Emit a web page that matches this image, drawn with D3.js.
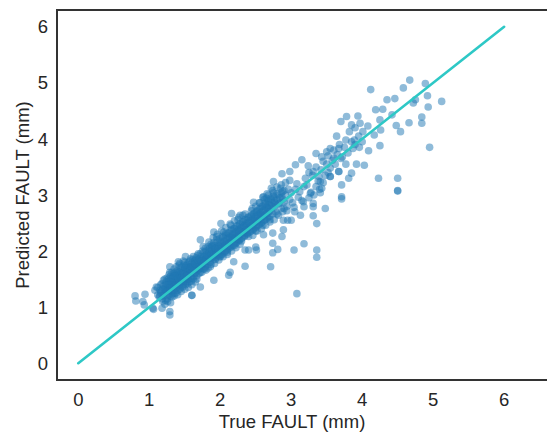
<!DOCTYPE html>
<html lang="en">
<head>
<meta charset="UTF-8">
<title>True vs Predicted FAULT</title>
<style>
  body { margin: 0; background: #fff; }
  svg { display: block; font-family: 'Liberation Sans', Arial, sans-serif; }
  .tick-label { font-size: 18.5px; fill: #262626; }
  .axis-title { font-size: 18.5px; fill: #262626; }
</style>
</head>
<body>
<div id="chart"></div>
<script src="https://d3js.org/d3.v7.min.js"></script>
<script>
// tick labels
const xTicks = [0, 1, 2, 3, 4, 5, 6];
const yTicks = [0, 1, 2, 3, 4, 5, 6];
// identity reference line (true = predicted)
const refLine = [[0, 0], [6, 6]];

// [true, predicted] pairs
const bandLow = [
  [1.12,1.22],[1.15,1.30],[1.18,1.15],[1.20,1.38],[1.21,1.25],[1.23,1.12],[1.24,1.45],[1.25,1.32],[1.26,1.20],[1.27,1.50],
  [1.28,1.40],[1.29,1.28],[1.30,1.55],[1.31,1.35],[1.32,1.18],[1.33,1.46],[1.34,1.60],[1.35,1.30],[1.36,1.42],[1.37,1.52],
  [1.38,1.25],[1.39,1.65],[1.40,1.38],[1.41,1.48],[1.42,1.58],[1.43,1.32],[1.44,1.70],[1.45,1.44],[1.46,1.54],[1.47,1.36],
  [1.48,1.62],[1.49,1.75],[1.50,1.46],[1.51,1.40],[1.52,1.58],[1.53,1.68],[1.54,1.50],[1.55,1.80],[1.56,1.45],[1.57,1.62],
  [1.58,1.72],[1.59,1.55],[1.60,1.66],[1.61,1.85],[1.62,1.50],[1.63,1.76],[1.64,1.60],[1.65,1.70],[1.66,1.88],[1.67,1.56],
  [1.68,1.80],[1.69,1.66],[1.70,1.74],[1.22,1.05],[1.26,1.10],[1.30,1.08],[1.35,1.20],[1.40,1.22],[1.45,1.28],[1.50,1.32],
  [1.55,1.35],[1.60,1.40],[1.65,1.45],[1.18,1.42],[1.22,1.50],[1.28,1.58],[1.32,1.62],[1.38,1.72],[1.43,1.78],[1.48,1.82],
  [1.36,1.48],[1.42,1.40],[1.46,1.65],[1.52,1.52],[1.58,1.60],[1.62,1.72],[1.34,1.38],[1.40,1.55],[1.44,1.50],[1.50,1.68],
  [1.56,1.72],[1.64,1.82],[1.68,1.92],[1.30,1.42],[1.26,1.36],[1.24,1.28],[1.20,1.20],[1.16,1.25],[1.33,1.24],[1.38,1.34],
  [1.54,1.42],[1.60,1.52],[1.66,1.62],[1.70,1.60],[1.28,1.22],[1.46,1.46],[1.52,1.74],[1.58,1.86],[1.60,1.21],[1.72,1.36]
];

const bandFillLow = [
  [1.12,1.35],[1.14,1.18],[1.16,1.40],[1.17,1.28],[1.19,1.10],[1.20,1.48],[1.22,1.33],[1.23,1.40],[1.25,1.52],[1.25,1.15],
  [1.27,1.30],[1.28,1.46],[1.29,1.62],[1.30,1.20],[1.31,1.50],[1.32,1.40],[1.33,1.30],[1.34,1.55],[1.35,1.68],[1.36,1.25],
  [1.37,1.40],[1.38,1.58],[1.39,1.48],[1.40,1.30],[1.41,1.62],[1.42,1.75],[1.43,1.45],[1.44,1.35],[1.45,1.60],[1.46,1.72],
  [1.47,1.50],[1.48,1.40],[1.49,1.66],[1.50,1.80],[1.51,1.55],[1.52,1.45],[1.53,1.62],[1.54,1.76],[1.55,1.58],[1.56,1.50],
  [1.57,1.82],[1.58,1.66],[1.59,1.46],[1.60,1.78],[1.61,1.62],[1.62,1.90],[1.63,1.55],[1.64,1.72],[1.65,1.84],[1.66,1.68],
  [1.67,1.50],[1.68,1.74],[1.69,1.95],[1.70,1.68],[1.71,1.80],[1.72,1.62],[1.73,1.90],[1.74,1.75],[1.75,1.86],[1.76,1.68],
  [1.77,1.98],[1.78,1.84],[1.79,1.72],[1.80,2.00],[1.81,1.82],[1.82,1.92],[1.83,1.70],[1.84,2.02],[1.85,1.88],[1.86,1.95],
  [1.87,1.76],[1.88,2.08],[1.89,1.90],[1.90,1.98],[1.31,1.45],[1.35,1.38],[1.39,1.56],[1.43,1.62],[1.47,1.44],[1.51,1.70],
  [1.55,1.64],[1.59,1.72],[1.63,1.66],[1.67,1.78],[1.71,1.72],[1.75,1.78],[1.79,1.92],[1.83,1.86],[1.87,1.94],[1.27,1.40],
  [1.23,1.30],[1.19,1.32],[1.15,1.20],[1.33,1.52],[1.37,1.62],[1.41,1.52],[1.45,1.52],[1.49,1.58],[1.53,1.56],[1.57,1.68],
  [1.61,1.70],[1.65,1.78],[1.69,1.84],[1.73,1.82],[1.77,1.84],[1.81,1.88],[1.85,2.05],[1.89,2.10],[1.29,1.34],[1.36,1.56]
];

const bandMid = [
  [1.71,1.86],[1.72,1.95],[1.73,1.70],[1.74,1.82],[1.75,2.00],[1.76,1.78],[1.77,1.90],[1.78,1.68],[1.79,2.05],[1.80,1.85],
  [1.81,1.94],[1.82,1.76],[1.83,2.08],[1.84,1.90],[1.85,1.98],[1.86,1.80],[1.87,2.12],[1.88,1.95],[1.89,2.02],[1.90,1.84],
  [1.91,2.15],[1.92,1.98],[1.93,2.06],[1.94,1.88],[1.95,2.20],[1.96,2.02],[1.97,2.10],[1.98,1.92],[1.99,2.22],[2.00,2.05],
  [2.01,2.14],[2.02,1.95],[2.03,2.26],[2.04,2.08],[2.05,2.18],[2.06,1.98],[2.07,2.30],[2.08,2.12],[2.09,2.22],[2.10,2.02],
  [2.11,2.32],[2.12,2.15],[2.13,2.25],[2.14,2.06],[2.15,2.38],[2.16,2.20],[2.17,2.28],[2.18,2.10],[2.19,2.40],[2.20,2.24],
  [2.21,2.32],[2.22,2.14],[2.23,2.45],[2.24,2.28],[2.25,2.36],[2.26,2.18],[2.27,2.48],[2.28,2.30],[2.29,2.40],[2.30,2.22],
  [2.31,2.52],[2.32,2.34],[2.33,2.44],[2.34,2.26],[2.35,2.56],[2.36,2.38],[2.37,2.48],[2.38,2.30],[2.39,2.60],[2.40,2.42],
  [1.74,1.62],[1.80,1.66],[1.86,1.72],[1.92,1.78],[1.98,1.84],[2.04,1.90],[2.10,1.94],[2.16,2.00],[2.22,2.06],[2.28,2.12],
  [1.76,2.08],[1.84,2.16],[1.90,2.24],[1.96,2.30],[2.02,2.36],[2.08,2.42],[2.14,2.48],[2.20,2.54],[2.26,2.60],[2.32,2.64],
  [1.78,1.80],[1.88,1.88],[1.94,1.96],[2.00,1.98],[2.06,2.10],[2.12,2.08],[2.18,2.22],[2.24,2.20],[2.30,2.36],[2.36,2.32],
  [1.91,1.48],[2.12,1.57],[2.14,1.62],[2.19,1.81],[1.72,2.20],[1.91,2.34],[2.01,2.49],[2.16,2.67],[2.28,2.64]
];

const bandFillMid = [
  [1.91,1.92],[1.92,2.10],[1.93,1.85],[1.94,2.05],[1.95,1.94],[1.96,2.16],[1.97,1.98],[1.98,2.08],[1.99,1.90],[2.00,2.18],
  [2.01,2.00],[2.02,2.10],[2.03,1.94],[2.04,2.24],[2.05,2.06],[2.06,2.16],[2.07,2.00],[2.08,2.28],[2.09,2.10],[2.10,2.20],
  [2.11,2.04],[2.12,2.32],[2.13,2.14],[2.14,2.24],[2.15,2.08],[2.16,2.36],[2.17,2.18],[2.18,2.30],[2.19,2.12],[2.20,2.40],
  [2.21,2.22],[2.22,2.34],[2.23,2.16],[2.24,2.44],[2.25,2.26],[2.26,2.38],[2.27,2.20],[2.28,2.48],[2.29,2.30],[2.30,2.42],
  [2.31,2.24],[2.32,2.52],[2.33,2.34],[2.34,2.46],[2.35,2.28],[2.36,2.56],[2.37,2.38],[2.38,2.50],[2.39,2.32],[2.40,2.60],
  [2.41,2.42],[2.42,2.54],[2.43,2.36],[2.44,2.64],[2.45,2.46],[2.46,2.58],[2.47,2.40],[2.48,2.68],[2.49,2.50],[2.50,2.62],
  [2.51,2.44],[2.52,2.72],[2.53,2.54],[2.54,2.66],[2.55,2.48],[2.56,2.76],[2.57,2.58],[2.58,2.70],[2.59,2.52],[2.60,2.80],
  [2.61,2.62],[2.62,2.74],[2.63,2.56],[2.64,2.84],[2.65,2.66],[2.66,2.78],[2.67,2.60],[2.68,2.88],[2.69,2.70],[2.70,2.82],
  [2.72,2.92],[2.74,2.80],[2.76,2.96],[2.78,2.84],[2.80,2.92],[2.82,3.00],[2.84,2.86],[2.86,3.04],[2.88,2.92],[2.90,3.08],
  [1.95,2.26],[2.05,2.34],[2.15,2.46],[2.25,2.56],[2.35,2.66],[2.45,2.76],[2.55,2.86],[2.65,2.94],[2.75,3.04],[2.85,3.12],
  [2.00,1.90],[2.10,1.98],[2.20,2.10],[2.30,2.18],[2.40,2.26],[2.50,2.36],[2.60,2.46],[2.70,2.56],[2.80,2.66],[2.90,2.76],
  [1.97,2.04],[2.07,2.12],[2.17,2.24],[2.27,2.34],[2.37,2.44],[2.47,2.54],[2.57,2.64],[2.67,2.76],[2.77,2.86],[2.87,2.96]
];

const bandHigh = [
  [2.41,2.50],[2.42,2.34],[2.43,2.62],[2.44,2.46],[2.45,2.55],[2.46,2.38],[2.47,2.66],[2.48,2.50],[2.49,2.58],[2.50,2.42],
  [2.51,2.70],[2.52,2.54],[2.53,2.62],[2.54,2.46],[2.55,2.75],[2.56,2.58],[2.57,2.68],[2.58,2.50],[2.59,2.80],[2.60,2.62],
  [2.61,2.72],[2.62,2.55],[2.63,2.85],[2.64,2.66],[2.65,2.78],[2.66,2.58],[2.67,2.90],[2.68,2.70],[2.69,2.82],[2.70,2.62],
  [2.71,2.94],[2.72,2.75],[2.73,2.86],[2.74,2.66],[2.75,2.98],[2.76,2.78],[2.77,2.90],[2.78,2.70],[2.80,3.02],[2.82,2.84],
  [2.84,2.95],[2.86,2.76],[2.88,3.06],[2.90,2.88],[2.92,3.00],[2.94,2.80],[2.96,3.10],[2.98,2.92],[3.00,3.04],[3.02,2.86],
  [2.44,2.72],[2.50,2.80],[2.56,2.86],[2.62,2.92],[2.68,3.00],[2.74,3.08],[2.80,3.14],[2.86,3.18],[2.92,3.22],[2.98,3.26],
  [2.46,2.28],[2.52,2.36],[2.58,2.40],[2.64,2.46],[2.70,2.52],[2.76,2.56],[2.82,2.64],[2.88,2.70],[2.94,2.72],[3.04,2.78],
  [2.60,2.96],[2.66,3.02],[2.72,3.12],[3.06,3.10],[3.10,2.96],[3.08,3.20],[3.12,3.06],[3.15,2.90],[3.05,2.70],[3.18,3.15],
  [2.47,2.87],[2.61,2.97],[2.50,2.07],[2.35,2.02],[2.61,2.29],[2.95,2.55]
];

const bandUpper = [
  [3.20,3.30],[3.25,3.40],[3.22,3.18],[3.28,3.05],[3.30,3.35],[3.35,3.50],[3.38,3.25],[3.42,3.45],[3.45,3.60],[3.48,3.35],
  [3.50,3.55],[3.52,3.70],[3.55,3.48],[3.58,3.62],[3.60,3.80],[3.62,3.55],[3.65,3.72],[3.68,3.90],[3.70,3.65],[3.75,3.85],
  [3.80,3.75],[3.85,3.95],[3.90,3.90],[3.95,4.05],[4.00,3.95],[3.40,3.10],[3.45,3.22],[3.32,3.00],[3.25,2.95],[3.52,3.40],
  [3.15,3.63],[3.06,3.54],[3.24,3.52],[2.98,3.42],[2.87,3.38],[2.75,3.24],[3.31,3.42],[3.39,3.33],[3.41,3.24],[3.35,3.15],
  [3.43,3.12],[3.27,3.03],[3.41,3.04],[3.31,2.85],[3.17,2.88],[3.18,2.79],[3.31,2.79],[3.31,2.63],[3.13,2.64],[3.00,2.55],
  [2.89,2.55],[2.89,2.38],[2.87,2.26],[2.74,2.32],[2.74,2.14],[3.55,3.33],[3.67,3.42],[3.48,2.76],[3.36,2.49]
];

const scatterOuter = [
  [4.67,5.05],[4.89,4.99],[4.12,4.88],[4.58,4.91],[4.92,4.77],[5.12,4.67],[4.75,4.70],[4.72,4.64],[4.93,4.57],[4.35,4.70],
  [4.46,4.72],[4.19,4.52],[4.29,4.53],[4.42,4.43],[4.25,4.34],[4.84,4.39],[4.84,4.28],[4.66,4.29],[4.48,4.24],[4.54,4.13],
  [4.26,4.16],[4.17,4.07],[4.25,3.88],[4.95,3.85],[3.70,4.31],[3.78,4.40],[3.94,4.41],[3.85,4.25],[3.97,4.28],[4.08,4.23],
  [3.82,4.13],[3.90,4.20],[4.01,4.13],[3.64,4.05],[3.77,3.98],[3.89,3.98],[3.96,3.85],[4.09,3.79],[3.87,3.83],[3.67,3.83],
  [3.55,3.83],[3.35,3.74],[3.43,3.68],[3.50,3.77],[3.60,3.66],[3.72,3.68],[3.77,3.55],[3.92,3.55],[4.03,3.53],[3.85,3.39],
  [3.81,3.30],[4.23,3.30],[4.50,3.30],[4.50,3.08],[4.50,3.07],[3.71,3.18],[3.71,2.97],[3.71,2.93],[3.55,3.33],[3.67,3.42],
  [2.81,2.03],[2.74,1.97],[3.04,2.02],[3.18,2.13],[3.36,2.02],[3.36,1.89],[2.71,1.72],[2.35,1.73],[3.08,1.24],[2.51,2.02],
  [2.40,2.02],[0.80,1.20],[0.81,1.11],[0.94,1.23],[0.91,1.10],[0.93,1.04],[1.05,0.98],[1.06,0.96],[1.18,0.98],[1.29,0.92],
  [1.29,0.86],[1.08,1.30],[1.10,1.36],[1.29,1.72],[1.41,1.81],[1.51,1.90],[1.60,1.21]
];

const W = 547, H = 434;
const svg = d3.select('#chart').append('svg')
  .attr('width', W)
  .attr('height', H);

// axes area: left spine at 57, top at 10, bottom at 380; right side runs off the image
const x = d3.scaleLinear().domain([-0.3, 6.9]).range([57, 568]);
const y = d3.scaleLinear().domain([-0.3, 6.3]).range([380, 10]);

svg.append('clipPath').attr('id', 'plot-clip')
  .append('rect')
  .attr('x', x(-0.3)).attr('y', y(6.3))
  .attr('width', x(6.9) - x(-0.3)).attr('height', y(-0.3) - y(6.3));

const plot = svg.append('g').attr('clip-path', 'url(#plot-clip)');

const allPoints = [].concat(bandLow, bandFillLow, bandMid, bandFillMid, bandHigh, bandUpper, scatterOuter);

plot.selectAll('circle.pt')
  .data(allPoints)
  .enter()
  .append('circle')
  .attr('class', 'pt')
  .attr('cx', d => x(d[0]))
  .attr('cy', d => y(d[1]))
  .attr('r', 3.8)
  .attr('fill', '#1f77b4')
  .attr('fill-opacity', 0.5);

// reference line on top of the points
plot.append('path')
  .datum(refLine)
  .attr('d', d3.line().x(d => x(d[0])).y(d => y(d[1])))
  .attr('fill', 'none')
  .attr('stroke', '#2ec8c6')
  .attr('stroke-width', 2.6)
  .attr('stroke-linecap', 'round');

// frame
svg.append('rect')
  .attr('x', x(-0.3)).attr('y', y(6.3))
  .attr('width', x(6.9) - x(-0.3)).attr('height', y(-0.3) - y(6.3))
  .attr('fill', 'none')
  .attr('stroke', '#333')
  .attr('stroke-width', 2);

// tick labels (no tick marks, seaborn white style)
svg.selectAll('.xtick')
  .data(xTicks)
  .enter()
  .append('text')
  .attr('class', 'tick-label')
  .attr('x', d => x(d))
  .attr('y', 406)
  .attr('text-anchor', 'middle')
  .text(d => d);

svg.selectAll('.ytick')
  .data(yTicks)
  .enter()
  .append('text')
  .attr('class', 'tick-label')
  .attr('x', 48)
  .attr('y', d => y(d) + 6.6)
  .attr('text-anchor', 'end')
  .text(d => d);

svg.append('text')
  .attr('class', 'axis-title')
  .attr('x', 292)
  .attr('y', 428)
  .attr('text-anchor', 'middle')
  .text('True FAULT (mm)');

svg.append('text')
  .attr('class', 'axis-title')
  .attr('transform', 'translate(29,195) rotate(-90)')
  .attr('text-anchor', 'middle')
  .text('Predicted FAULT (mm)');
</script>
</body>
</html>
